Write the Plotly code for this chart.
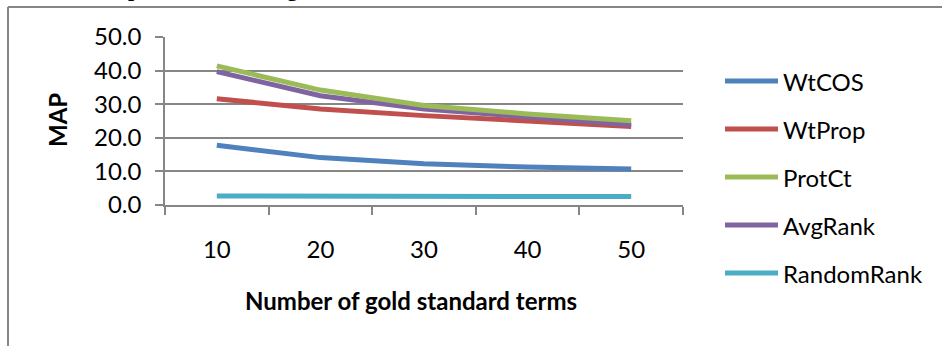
import plotly.graph_objects as go

# Number of gold standard terms (category axis)
terms = ["10", "20", "30", "40", "50"]

# MAP per ranking method
wtcos = [17.8, 14.1, 12.3, 11.3, 10.7]
wtprop = [31.6, 28.6, 26.6, 25.0, 23.4]
protct = [41.4, 34.2, 29.6, 27.1, 25.1]
avgrank = [39.7, 32.5, 28.6, 26.1, 23.9]
randomrank = [2.7, 2.6, 2.6, 2.6, 2.5]

series_names = ["WtCOS", "WtProp", "ProtCt", "AvgRank", "RandomRank"]
series_values = [wtcos, wtprop, protct, avgrank, randomrank]
series_colors = ["#4F81BD", "#C0504D", "#9BBB59", "#8064A2", "#4BACC6"]

y_ticks = [0, 10, 20, 30, 40, 50]

W, H = 942, 346
PL, PR, PT, PB = 165, 683, 37, 205   # plot area in pixels
GRID = "#868686"
FONT = "Lato, 'Open Sans', sans-serif"
FS = 24


def px_x(x):
    return (x - PL) / (PR - PL)


def px_y(y):
    return (PB - y) / (PB - PT)


fig = go.Figure()
# draw in an order that keeps ProtCt above AvgRank
draw_order = [4, 0, 1, 3, 2]
for i in draw_order:
    fig.add_trace(go.Scatter(
        x=terms, y=series_values[i], name=series_names[i],
        mode="lines", line=dict(color=series_colors[i], width=5),
        showlegend=False,
    ))

fig.update_layout(
    width=W, height=H,
    margin=dict(l=PL, r=W - PR, t=PT, b=H - PB, pad=0),
    paper_bgcolor="white", plot_bgcolor="white",
    font=dict(family=FONT, size=FS, color="black"),
    xaxis=dict(
        type="category", tickson="boundaries", ticks="outside",
        ticklen=8, tickwidth=1.5, tickcolor=GRID,
        showline=True, linecolor=GRID, linewidth=1.5,
        showgrid=False, zeroline=False,
        tickfont=dict(family=FONT, size=FS), ticklabelstandoff=22,
        range=[-0.5, 4.5],
    ),
    yaxis=dict(
        range=[0, 50], tickvals=y_ticks, ticktext=[f"{v:.1f}" for v in y_ticks],
        ticks="outside", ticklen=8, tickwidth=1.5, tickcolor=GRID,
        showgrid=True, gridcolor=GRID, gridwidth=1.5,
        showline=True, linecolor=GRID, linewidth=1.5,
        zeroline=False, tickfont=dict(family=FONT, size=FS),
        ticklabelstandoff=9,
    ),
)

# axis titles
fig.add_annotation(
    x=px_x(411), y=px_y(300), xref="paper", yref="paper",
    text="<b>Number of gold standard terms</b>", showarrow=False,
    font=dict(family=FONT, size=FS), xanchor="center", yanchor="middle",
)
fig.add_annotation(
    x=px_x(57), y=px_y(120), xref="paper", yref="paper",
    text="<b>MAP</b>", showarrow=False, textangle=-90,
    font=dict(family=FONT, size=FS), xanchor="center", yanchor="middle",
)

# legend: a short line sample next to each series name
legend_y = [81, 129, 177, 225, 273]
for name, color, ly in zip(series_names, series_colors, legend_y):
    fig.add_shape(
        type="line", xref="paper", yref="paper",
        x0=px_x(725), x1=px_x(778), y0=px_y(ly), y1=px_y(ly),
        line=dict(color=color, width=5),
    )
    fig.add_annotation(
        x=px_x(781), y=px_y(ly), xref="paper", yref="paper",
        text=name, showarrow=False, xanchor="left", yanchor="middle",
        font=dict(family=FONT, size=FS),
    )

# chart frame (top and left edges)
fig.add_shape(type="line", xref="paper", yref="paper",
              x0=px_x(8), x1=px_x(W + 5), y0=px_y(7), y1=px_y(7),
              line=dict(color=GRID, width=2))
fig.add_shape(type="line", xref="paper", yref="paper",
              x0=px_x(8), x1=px_x(8), y0=px_y(7), y1=px_y(H + 5),
              line=dict(color=GRID, width=2))

# heading text sitting above the frame
for ch, cx in [("p", 134), ("g", 292)]:
    fig.add_annotation(
        x=px_x(cx), y=px_y(3), xref="paper", yref="paper",
        text=f"<b>{ch}</b>", showarrow=False, xanchor="center", yanchor="bottom",
        font=dict(family="'Liberation Serif', serif", size=22),
    )

fig.write_html("out.html")
